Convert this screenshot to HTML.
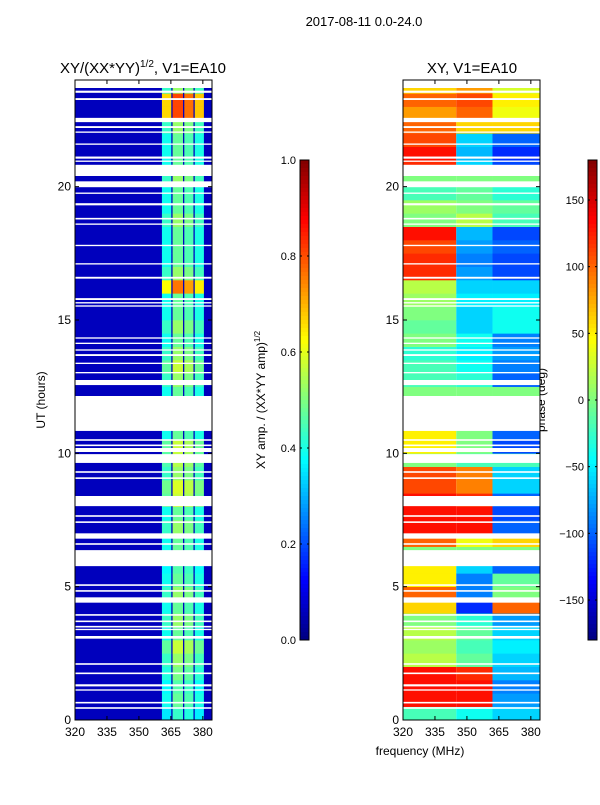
<!DOCTYPE html>
<html><head><meta charset="utf-8"><style>
body{margin:0;background:#fff;}
svg text{font-family:"Liberation Sans",sans-serif;fill:#000;}
</style></head><body>
<svg id="fig" width="600" height="800" viewBox="0 0 600 800" xmlns="http://www.w3.org/2000/svg">
<text x="364" y="26" font-size="13" text-anchor="middle">2017-08-11 0.0-24.0</text>
<text x="143" y="73" font-size="15" text-anchor="middle">XY/(XX*YY)<tspan font-size="10" dy="-6">1/2</tspan><tspan dy="6">, V1=EA10</tspan></text>
<text x="472" y="73" font-size="15" text-anchor="middle">XY, V1=EA10</text>
<text x="45" y="400" font-size="12" text-anchor="middle" transform="rotate(-90 45 400)">UT (hours)</text>
<text x="420" y="755" font-size="12" text-anchor="middle">frequency (MHz)</text>
<text x="265" y="400" font-size="12" text-anchor="middle" transform="rotate(-90 265 400)">XY amp. / (XX*YY amp)<tspan font-size="8" dy="-5">1/2</tspan></text>
<text x="545" y="400" font-size="12" text-anchor="middle" transform="rotate(-90 545 400)">phase (deg)</text>
<g id="left"></g>
<g id="right"></g>
<g id="axes"></g>
<g id="cbars"></g>
</svg>
<script>
// ---- data ----
const hourBins = 48; // 0.5 h bins
const bandAmp = [0.45,0.5,0.48,0.52,0.55,0.6,0.5,0.55,0.5,0.55,0.5,0.48,0.5,0.5,0.55,0.5,0.6,0.62,0.55,0.58,0.6,0.5,0.5,0.5,0.5,0.55,0.6,0.55,0.5,0.55,0.5,0.5,0.8,0.55,0.5,0.5,0.5,0.55,0.5,0.5,0.55,0.5,0.5,0.5,0.55,0.85,0.85,0.55];
const subBandFactor = [0.78,0.95,0.9,0.8];
const subBandFreq = [[360.8,365.2],[365.8,370.7],[371.3,375.6],[376.2,380.5]];
const baseAmp = 0.06;
const phaseA = [-20,130,130,130,20,10,20,0,60,100,50,50,0,100,130,130,130,110,110,0,50,50,0,0,0,-20,-20,-30,0,-10,0,10,20,120,120,110,130,0,10,-20,0,120,130,110,100,80,100,60];
const phaseB = [-40,130,130,120,-10,-20,-10,-30,-120,-90,-90,-60,0,40,130,130,120,90,90,-20,0,0,0,0,0,-30,-40,-50,-40,-60,-60,-50,-60,-80,-90,-80,-70,20,0,-10,0,-60,-70,-60,60,100,110,80];
const phaseC = [-60,-80,-90,-70,-60,-50,-60,-80,100,0,-10,-100,0,60,-100,-110,-100,-60,-60,-20,-110,-100,0,0,0,-100,-90,-80,-90,-40,-40,-50,-60,-110,-110,-100,-110,-20,-10,-30,0,-110,-120,-100,60,40,50,30];
const flagged = [[23.7,24],[23.52,23.6],[23.25,23.32],[22.42,22.58],[22.2,22.27],[22.02,22.07],[21.57,21.62],[21.05,21.13],[20.93,20.98],[20.4,20.82],[19.98,20.2],[19.73,19.78],[19.3,19.38],[18.77,18.83],[18.57,18.62],[17.77,17.82],[17.08,17.13],[16.55,16.62],[15.75,15.82],[15.62,15.67],[15.5,15.55],[14.3,14.35],[14.1,14.15],[13.85,13.9],[13.65,13.72],[13.35,13.4],[13.0,13.05],[12.56,12.75],[10.84,12.15],[10.47,10.53],[10.27,10.33],[10.05,10.2],[9.64,9.97],[9.27,9.33],[9.04,9.1],[8.02,8.4],[7.62,7.68],[7.39,7.45],[6.8,7.0],[6.57,6.63],[5.77,6.37],[5.03,5.09],[4.81,4.87],[4.4,4.6],[3.91,3.97],[3.67,3.73],[3.47,3.53],[3.37,3.42],[3.05,3.15],[2.07,2.13],[1.72,1.78],[1.26,1.34],[1.1,1.15],[0.62,0.68],[0.42,0.48]];
const freqTicks = [320,335,350,365,380];
const hourTicks = [0,5,10,15,20];
const ampTicks = [0.0,0.2,0.4,0.6,0.8,1.0];
const phaseTicks = [-150,-100,-50,0,50,100,150];

// ---- scales ----
const F0=320,F1=384.3, Y0=720, Y1=80;
function yS(h){return Y0-(h/24)*(Y0-Y1);}
function xL(f){return 75+(f-F0)/(F1-F0)*137;}
function xR(f){return 403+(f-F0)/(F1-F0)*137;}
function jet(v){v=Math.max(0,Math.min(1,v));
 const r=Math.max(0,Math.min(1,1.5-Math.abs(4*v-3))),g=Math.max(0,Math.min(1,1.5-Math.abs(4*v-2))),b=Math.max(0,Math.min(1,1.5-Math.abs(4*v-1)));
 return `rgb(${Math.round(r*255)},${Math.round(g*255)},${Math.round(b*255)})`;}
const NS="http://www.w3.org/2000/svg";
function rect(g,x,y,w,h,fill){const r=document.createElementNS(NS,'rect');r.setAttribute('x',x);r.setAttribute('y',y);r.setAttribute('width',w);r.setAttribute('height',h);r.setAttribute('fill',fill);g.appendChild(r);return r;}
function line(g,x1,y1,x2,y2,w){const l=document.createElementNS(NS,'line');l.setAttribute('x1',x1);l.setAttribute('y1',y1);l.setAttribute('x2',x2);l.setAttribute('y2',y2);l.setAttribute('stroke','#000');l.setAttribute('stroke-width',w||1);g.appendChild(l);return l;}
function txt(g,x,y,s,anchor){const t=document.createElementNS(NS,'text');t.setAttribute('x',x);t.setAttribute('y',y);t.setAttribute('font-size','12');t.setAttribute('text-anchor',anchor);t.textContent=s;g.appendChild(t);return t;}

const L=document.getElementById('left'),R=document.getElementById('right');
rect(L,xL(F0),Y1,137,Y0-Y1,jet(baseAmp));
for(let i=0;i<hourBins;i++){
  const y=yS((i+1)*0.5),h=yS(i*0.5)-y;
  subBandFreq.forEach((sb,j)=>{
    const r=rect(L,xL(sb[0]),y,xL(sb[1])-xL(sb[0]),h+0.3,jet(bandAmp[i]*subBandFactor[j]));
    
    
  });
}
for(let i=0;i<hourBins;i++){
  const y=yS((i+1)*0.5),h=yS(i*0.5)-y+0.3;
  [[F0,345,phaseA],[345,362,phaseB],[362,F1,phaseC]].forEach(s=>{
    const r=rect(R,xR(s[0]),y,xR(s[1])-xR(s[0]),h,jet((s[2][i]+180)/360));
    
    
  });
}
flagged.forEach(f=>{
  [[L,xL],[R,xR]].forEach(p=>{
    const r=rect(p[0],p[1](F0),yS(f[1]),137,yS(f[0])-yS(f[1]),'#fff');
    
    
  });
});
const A=document.getElementById('axes');
[[75,xL],[403,xR]].forEach(p=>{
  const fr=rect(A,p[0],Y1,137,Y0-Y1,'none');fr.setAttribute('stroke','#000');
  
  freqTicks.forEach(f=>{const x=p[1](f);line(A,x,Y0,x,Y0-4);line(A,x,Y1,x,Y1+4);
    const t=txt(A,x,736,String(f),'middle');
    });
  hourTicks.forEach(h=>{const y=yS(h);line(A,p[0],y,p[0]+4,y);line(A,p[0]+137,y,p[0]+133,y);
    const t=txt(A,p[0]-4,y+4,String(h),'end');
    });
});
const C=document.getElementById('cbars');
function cbar(x,lo,hi,ticks,name){
  for(let k=0;k<120;k++){rect(C,x,160+k*4,9,4.3,jet(1-(k+0.5)/120));}
  const fr=rect(C,x,160,9,480,'none');fr.setAttribute('stroke','#000');
  
  ticks.forEach(v=>{const y=640-(v-lo)/(hi-lo)*480;line(C,x,y,x+2,y);line(C,x+9,y,x+7,y);
    const t=txt(C,x-4,y+4,Number.isInteger(v)&&lo<0?String(v).replace('-','\u2212'):v.toFixed(1),'end');
    t.setAttribute('font-size','11');
    });
}
cbar(300,0,1,ampTicks,'amplitude-colorbar');
cbar(588,-180,180,phaseTicks,'phase-colorbar');
</script>
</body></html>
